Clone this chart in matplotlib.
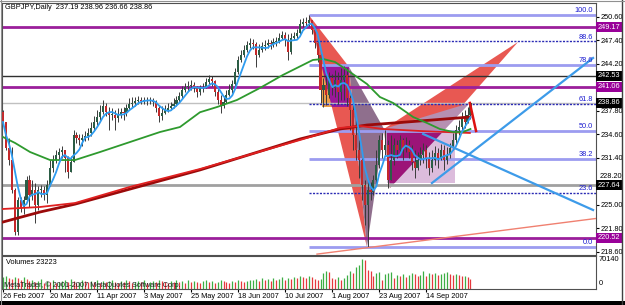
import numpy as np
import pandas as pd
import matplotlib
matplotlib.use("Agg")
import matplotlib.pyplot as plt
import matplotlib.transforms as mtrans
from matplotlib.patches import Polygon, Rectangle
from matplotlib.lines import Line2D

plt.rcParams['font.family'] = ['Liberation Sans', 'DejaVu Sans']
FS = 5.3

# ---- GBPJPY daily bars, bar 0 = 26 Feb 2007 (open of bar n = close of bar n-1)
first_open = 237.64
closes = [236.27, 232.74, 231.10, 227.02, 221.31, 225.66, 224.57, 225.66, 228.38, 226.34,
          227.02, 224.98, 227.02, 227.02, 226.34, 227.70, 230.02, 231.10, 231.78, 232.19,
          232.46, 231.38, 229.47, 230.83, 234.51, 234.10, 233.82, 234.10, 234.37, 234.78,
          235.46, 236.27, 236.95, 237.64, 238.45, 237.64, 237.23, 237.23, 236.82, 237.36,
          237.64, 237.50, 238.18, 238.72, 238.86, 239.13, 239.27, 239.13, 239.27, 239.13,
          239.27, 238.99, 238.18, 237.09, 237.50, 237.91, 238.18, 238.45, 238.72, 239.27,
          239.81, 240.63, 241.03, 241.17, 241.31, 240.90, 240.36, 240.90, 241.03, 241.71,
          242.12, 241.85, 240.36, 239.27, 238.45, 238.99, 239.95, 240.63, 241.44, 243.08,
          244.71, 245.39, 246.07, 246.75, 247.02, 246.88, 245.39, 246.07, 246.61, 246.75,
          247.02, 246.88, 247.16, 247.29, 247.70, 248.11, 247.43, 245.80, 247.70, 247.97,
          248.38, 249.61, 249.88, 249.74, 250.15, 248.79, 247.02, 245.39, 240.63, 241.31,
          239.95, 242.26, 240.90, 241.99, 240.36, 241.99, 242.67, 239.54, 237.91, 234.51,
          232.46, 231.10, 227.70, 224.98, 227.02, 226.75, 228.38, 230.42, 233.82, 232.46,
          233.14, 228.38, 231.10, 233.14, 232.46, 233.82, 232.74, 233.14, 232.19, 230.83,
          230.02, 231.10, 231.78, 232.46, 231.38, 230.02, 231.10, 232.06, 231.38, 232.46,
          231.10, 231.78, 232.74, 233.82, 235.19, 235.59, 236.82, 236.27, 237.19, 238.86]
highs = [237.91, 235.86, 234.10, 232.87, 227.29, 226.07, 226.07, 226.21, 228.92, 229.06,
         228.38, 227.97, 227.56, 227.70, 227.56, 228.38, 231.10, 231.78, 232.46, 232.74,
         233.01, 232.46, 231.65, 231.65, 235.19, 234.91, 234.64, 234.64, 235.05, 235.46,
         236.27, 237.09, 237.91, 238.59, 239.27, 238.86, 238.31, 238.18, 237.91, 238.18,
         238.18, 238.31, 238.72, 239.54, 239.67, 239.67, 239.81, 239.67, 239.67, 239.67,
         239.67, 239.54, 239.27, 238.59, 238.45, 238.59, 238.86, 238.99, 239.54, 239.81,
         240.36, 241.17, 241.58, 241.85, 241.99, 241.71, 241.17, 241.31, 241.58, 242.26,
         242.67, 242.53, 241.99, 240.90, 239.95, 239.81, 240.63, 241.44, 241.99, 243.62,
         245.25, 246.07, 246.75, 247.29, 247.70, 247.56, 247.16, 246.88, 247.16, 247.43,
         247.56, 247.43, 247.70, 247.84, 248.38, 248.65, 248.52, 248.25, 248.38, 248.52,
         248.93, 250.29, 250.42, 250.56, 250.83, 250.15, 249.20, 247.43, 245.80, 242.26,
         243.35, 243.08, 242.80, 243.35, 243.08, 243.62, 243.89, 243.62, 239.95, 238.59,
         236.55, 233.82, 231.38, 228.38, 228.38, 228.11, 229.06, 232.46, 234.51, 234.78,
         235.19, 233.82, 234.51, 234.10, 233.82, 234.51, 234.10, 234.23, 233.82, 233.14,
         232.46, 232.19, 232.87, 233.42, 233.14, 232.19, 232.46, 233.01, 232.74, 233.28,
         233.14, 232.87, 233.42, 234.78, 235.86, 236.55, 237.64, 237.91, 238.30, 238.96]
lows = [235.86, 232.46, 230.42, 226.61, 220.90, 220.90, 224.03, 223.76, 225.39, 224.71,
        225.66, 222.53, 224.30, 226.07, 225.66, 225.25, 227.56, 229.47, 230.70, 231.10,
        231.38, 229.47, 228.65, 230.02, 230.83, 233.42, 233.14, 233.01, 233.69, 233.82,
        234.37, 235.05, 235.86, 236.55, 237.36, 237.09, 235.19, 236.55, 235.19, 236.27,
        236.82, 236.55, 237.09, 237.91, 238.31, 238.45, 238.72, 238.72, 238.72, 238.59,
        238.72, 238.45, 237.64, 236.27, 236.55, 237.36, 237.64, 237.91, 238.18, 238.45,
        238.99, 239.54, 240.36, 240.49, 240.63, 240.36, 239.67, 239.95, 240.36, 240.90,
        241.44, 241.17, 239.81, 238.72, 237.50, 238.18, 238.86, 239.81, 240.22, 241.17,
        242.80, 244.44, 245.12, 245.80, 246.34, 246.20, 243.76, 245.12, 245.80, 246.07,
        246.34, 246.20, 246.48, 246.61, 247.02, 247.56, 246.61, 244.71, 245.52, 247.43,
        247.70, 248.25, 249.20, 249.20, 249.33, 248.25, 246.34, 244.44, 238.86, 238.31,
        238.59, 239.54, 239.95, 239.67, 238.72, 239.27, 239.27, 238.45, 235.19, 232.46,
        231.10, 228.65, 225.66, 222.26, 219.27, 225.66, 226.34, 227.70, 230.02, 231.38,
        231.78, 227.29, 229.06, 230.42, 231.38, 231.78, 231.10, 232.19, 231.38, 229.74,
        228.65, 229.74, 230.42, 230.70, 230.02, 229.06, 229.47, 230.42, 230.02, 231.10,
        229.74, 230.56, 231.38, 232.46, 233.14, 234.51, 235.19, 235.46, 236.14, 236.66]
volumes = [28100, 30400, 25700, 23400, 28100, 25700, 21000, 28100, 23400, 18700,
           21000, 16400, 18700, 23400, 14000, 18700, 16400, 21000, 14000, 16400,
           18700, 21000, 16400, 23400, 18700, 14000, 16400, 21000, 18700, 16400,
           18700, 16400, 21000, 14000, 18700, 16400, 18700, 21000, 16400, 14000,
           18700, 16400, 21000, 18700, 14000, 16400, 18700, 16400, 21000, 14000,
           16400, 18700, 16400, 21000, 18700, 16400, 14000, 18700, 16400, 21000,
           16400, 18700, 14000, 21000, 16400, 18700, 16400, 14000, 18700, 21000,
           16400, 18700, 14000, 16400, 21000, 18700, 16400, 14000, 18700, 16400,
           21000, 18700, 16400, 18700, 21000, 21000, 23400, 18700, 25700, 21000,
           23400, 18700, 25700, 21000, 23400, 28100, 21000, 25700, 23400, 28100,
           25700, 30400, 28100, 25700, 30400, 28100, 23400, 21000, 23400, 37400,
           42100, 39700, 25700, 23400, 28100, 21000, 25700, 32700, 42100, 37400,
           51400, 56100, 70140, 67800, 44400, 42100, 30400, 37400, 39700, 21000,
           35100, 37400, 39700, 25700, 32700, 30400, 35100, 28100, 32700, 37400,
           35100, 30400, 32700, 42100, 30400, 37400, 35100, 37400, 32700, 35100,
           37400, 39700, 35100, 32700, 35100, 32700, 30400, 30400, 28100, 23223]

date_ticks = [0, 16, 32, 48, 64, 80, 96, 112, 128, 144]
date_labels = ["26 Feb 2007", "20 Mar 2007", "11 Apr 2007", "3 May 2007", "25 May 2007",
               "18 Jun 2007", "10 Jul 2007", "1 Aug 2007", "23 Aug 2007", "14 Sep 2007"]
price_ticks = [218.6, 221.8, 225.0, 228.2, 231.4, 234.6, 237.8, 241.0, 244.2, 247.4, 250.6]
hidden_ticks = [241.0]        # fully covered by the 241.06 marker
squeezed_ticks = [228.2]      # pushed just above the 227.64 marker

# moving averages (bar, price)
green_bars = [0, 4.1, 9.2, 16.0, 21.1, 24.5, 33.0, 43.2, 53.4, 60.2, 67.0, 72.8, 79.6, 87.4,
              95.2, 102.0, 105.4, 108.8, 112.9, 117.0, 120.4, 123.8, 128.2, 132.7, 139.5,
              144.2, 148.6, 153.1, 156.4, 158.2, 159]
green_vals = [234.23, 233.42, 232.19, 231.10, 231.10, 231.10, 232.19, 233.55, 234.91, 235.59,
              237.60, 238.31, 239.27, 240.90, 242.67, 244.03, 244.71, 244.85, 244.44, 243.35,
              242.40, 241.44, 239.67, 238.86, 236.95, 236.14, 235.32, 234.91, 234.91, 235.19, 235.32]
red1_bars = [0, 12.6, 24.5, 43.2, 67.0, 101.0, 114.6, 121.4, 129.3, 141.8, 158.8]
red1_vals = [224.44, 224.71, 225.25, 227.45, 229.88, 233.82, 235.46, 235.73, 235.32, 235.05, 234.78]
red2_bars = [0, 12.6, 24.5, 43.2, 67.0, 101.0, 114.6, 123.8, 141.8, 158.8]
red2_vals = [222.67, 224.03, 225.10, 227.15, 229.75, 233.96, 235.32, 235.86, 236.41, 236.95]

# horizontal levels
purple_levels = [249.17, 241.06, 220.52]
black_level = 242.53
gray_level = 227.64
bid_price = 238.86

# fibonacci retracement
fib_start = 104
fib_low, fib_high = 219.22, 250.83
fib_levels = [0.0, 23.6, 38.2, 50.0, 61.8, 78.6, 88.6, 100.0]

# harmonic pattern points
pat_bars = {'X': 104, 'P': 117.7, 'A': 123.8, 'B': 129.6, 'C': 131.6, 'D': 158.8, 'E': 175.2}
pat_prices = {'X': 250.83, 'P': 243.76, 'A': 219.27, 'B': 235.33, 'C': 227.29, 'D': 238.86, 'E': 247.16}
box1 = ((108.5, 117.7), (238.3, 244.05))
box2 = ((130.6, 153.8), (228.0, 235.0))

blue_down = ((142.9, 200.7), (234.64, 224.30))
blue_up = ((145.9, 200.7), (227.97, 244.98))
salmon_line = ((106.8, 201.7), (218.30, 223.15))
red_tick = ((158.8, 160.9), (238.86, 235.05))

# ------------------------------------------------------------------
closes = np.array(closes)
opens = np.r_[first_open, closes[:-1]]
highs = np.maximum.reduce([np.array(highs), opens, closes])
lows = np.minimum.reduce([np.array(lows), opens, closes])
bars = np.arange(len(closes))
blue_ma = pd.Series(closes).rolling(5, min_periods=1).mean()

W, H = 625, 305
fig = plt.figure(figsize=(W / 100, H / 100), dpi=100)


def box(x0, y0, x1, y1):
    return [x0 / W, 1 - y1 / H, (x1 - x0) / W, (y1 - y0) / H]


ax = fig.add_axes(box(2, 3, 596, 255))
axv = fig.add_axes(box(2, 256, 596, 289))
xlim = (-0.34, 201.7)

for a in (ax, axv):
    a.set_xlim(*xlim)
    for s in a.spines.values():
        s.set_color('#505050')
        s.set_linewidth(0.8)
ax.set_ylim(218.18, 252.46)


def pt(k):
    return (pat_bars[k], pat_prices[k])


red_fill = '#e85852'
# pattern triangles and zones
ax.add_patch(Polygon([pt('B'), pt('E'), pt('C')], fc=red_fill, ec='none', zorder=1.0))
t1 = Polygon([pt('X'), pt('P'), pt('A')], fc=red_fill, ec='none', zorder=1.1)
ax.add_patch(t1)
ax.add_patch(Polygon([pt('P'), pt('B'), pt('A')], fc='#8f6f8d', ec='none', zorder=1.1))
(bx0, bx1), (by0, by1) = box1
ax.add_patch(Rectangle((bx0, by0), bx1 - bx0, by1 - by0, fc='#eea04a', ec='none', zorder=1.2))
r1in = Rectangle((bx0, by0), bx1 - bx0, by1 - by0, fc='#9a189a', ec='none', zorder=1.25)
ax.add_patch(r1in)
r1in.set_clip_path(t1)
(cx0, cx1), (cy0, cy1) = box2
r2 = Rectangle((cx0, cy0), cx1 - cx0, cy1 - cy0, fc='#dcbcdc', ec='none', zorder=1.2)
ax.add_patch(r2)
ax.add_patch(Polygon([pt('B'), pt('D'), pt('C')], fc='#b690b2', ec='none', zorder=1.3))
t3in = Polygon([pt('B'), pt('D'), pt('C')], fc='#9c1478', ec='none', zorder=1.35)
ax.add_patch(t3in)
t3in.set_clip_path(r2)

# horizontal lines
ax.axhline(bid_price, color='#c0c0c0', lw=1, zorder=1.5)
for p in purple_levels:
    ax.axhline(p, color='#9b1f9b', lw=2, zorder=1.6)
ax.axhline(black_level, color='#303030', lw=1, zorder=1.6)
ax.axhline(gray_level, color='#a0a0a0', lw=2, zorder=1.6)

for lvl in fib_levels:
    price = fib_low + lvl / 100 * (fib_high - fib_low)
    if lvl in (23.6, 61.8, 88.6):
        ax.hlines(price, fib_start, xlim[1], color='#2a2ab4', lw=1, linestyles=(0, (1.5, 1)), zorder=1.7)
    else:
        ax.hlines(price, fib_start, xlim[1], color='#9c9cf0', lw=2, zorder=1.7)
    ax.text(200.6, price + 0.13, f'{lvl:.1f}', ha='right', va='bottom', color='#1c1cd0',
            fontsize=FS, zorder=6)

# candles
up = closes >= opens
ax.vlines(bars, lows, highs, color='#3a3a3a', lw=0.7, zorder=3)
ax.bar(bars, np.maximum(np.abs(closes - opens), 0.08), bottom=np.minimum(opens, closes),
       width=0.72, color=np.where(up, '#2b5d45', '#c4282a'), lw=0, zorder=3.2)

# indicators and trend lines
ax.plot(red2_bars, red2_vals, color='#9a0a0a', lw=2.0, zorder=4)
ax.plot(red1_bars, red1_vals, color='#e02020', lw=1.3, zorder=4.1)
ax.plot(green_bars, green_vals, color='#2e9a2e', lw=1.3, zorder=4.2)
ax.plot(bars, blue_ma, color='#2f9cf0', lw=1.3, zorder=4.3)
ax.plot(*salmon_line, color='#f08070', lw=1, zorder=4)
ax.plot(*blue_down, color='#3d9be9', lw=1.6, zorder=4.4)
ax.plot(*blue_up, color='#3d9be9', lw=1.6, zorder=4.4)
ax.plot(*red_tick, color='#dd1111', lw=1.8, zorder=4.5)

# price axis
ax.set_xticks([])
ax.yaxis.tick_right()
ax.set_yticks(price_ticks)
ax.set_yticklabels(['' if p in hidden_ticks + squeezed_ticks else f'{p:.2f}' for p in price_ticks])
ax.tick_params(axis='y', length=2, width=0.8, pad=1, labelsize=FS, colors='black')
trans = mtrans.blended_transform_factory(ax.transAxes, ax.transData)
for p in squeezed_ticks:
    ax.text(1.006, gray_level + 0.72, f'{p:.2f}', transform=trans, fontsize=FS, ha='left',
            va='bottom', clip_on=False)
box_labels = [(249.17, '#990099'), (242.53, '#000000'), (241.06, '#990099'),
              (238.86, '#000000'), (227.64, '#000000'), (220.52, '#990099')]
for p, c in box_labels:
    ax.text(1.003, p, f'{p:.2f}', transform=trans, color='white', fontsize=FS, ha='left',
            va='center', clip_on=False, zorder=10,
            bbox=dict(boxstyle='square,pad=0.2', fc=c, ec='none'))

fig.text(5 / W, 1 - 7.5 / H, 'GBPJPY,Daily  237.19 238.96 236.66 238.86', fontsize=FS,
         va='center', ha='left')

# volumes
vol = np.array(volumes)
rising = np.r_[True, vol[1:] >= vol[:-1]]
axv.vlines(bars, 0, vol, colors=np.where(rising, '#3cae43', '#e6383d'), lw=0.9)
axv.set_ylim(0, 77150)
axv.set_yticks([])
axv.set_xticks(date_ticks)
axv.set_xticklabels(date_labels, ha='left')
axv.tick_params(axis='x', length=2.5, width=0.8, pad=0.5, labelsize=FS)
axv.text(0.006, 0.80, f'Volumes {volumes[-1]}', transform=axv.transAxes, fontsize=FS, va='center')
axv.text(0.004, 0.13, 'MetaTrader, \u00a9 2001-2007 MetaQuotes Software Corp.', transform=axv.transAxes,
         fontsize=FS, va='center', color='#202020')
axv.text(1.004, 0.88, '70140', transform=axv.transAxes, fontsize=FS, va='center', ha='left')
axv.text(1.004, 0.18, '0', transform=axv.transAxes, fontsize=FS, va='center', ha='left')

# window frame
fig.add_artist(Rectangle((0, 0), 1, 4 / H, transform=fig.transFigure, fc='black', ec='none'))
fig.add_artist(Line2D([621.5 / W] * 2, [0, 1], transform=fig.transFigure, color='#404040', lw=1))
fig.add_artist(Line2D([0, 1], [1 - 0.5 / H] * 2, transform=fig.transFigure, color='#909090', lw=0.8))
fig.add_artist(Line2D([0.5 / W] * 2, [0, 1], transform=fig.transFigure, color='#909090', lw=0.8))

fig.savefig('out.png', dpi=100)
